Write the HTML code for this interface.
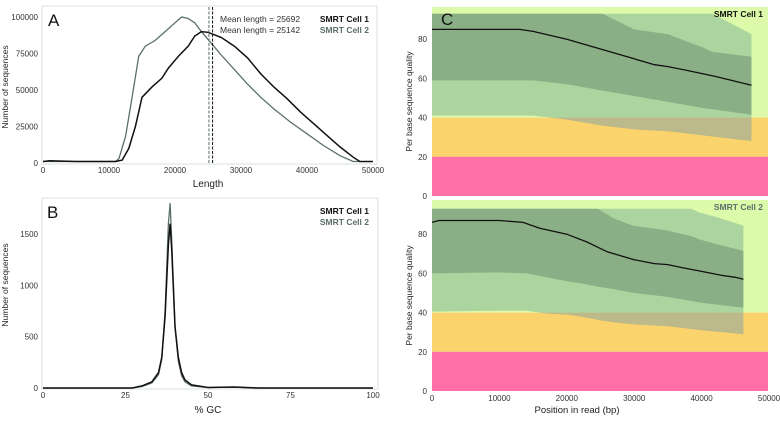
<!DOCTYPE html>
<html><head><meta charset="utf-8"><style>
html,body{margin:0;padding:0;background:#fff;}
svg{display:block;font-family:"Liberation Sans",Arial,sans-serif;}
</style></head><body>
<svg id="fig" width="780" height="437" viewBox="0 0 780 437" xmlns="http://www.w3.org/2000/svg"></svg>
<script>
// ---- Panel A data (length in bp, counts) ----
const aX1 = [0,1000,5000,11000,12000,13000,14000,15000,16500,18000,19000,20500,22000,23000,24000,25000,27000,29000,31000,33000,35000,37000,39000,41000,43000,45000,47000,48000,50000];
const aY1 = [1000,1500,1000,1000,2000,10000,25000,45000,52000,58000,65000,73000,80000,87000,90000,89500,86000,80000,72000,61000,52000,44000,35000,27000,19000,11000,4000,1000,1000];
const aX2 = [0,5000,11000,11500,12500,13500,14500,15500,17000,18500,20000,21000,22000,23000,24000,25500,27000,29000,31000,33000,35000,37500,40000,42500,45000,47000,48000];
const aY2 = [1000,1000,1000,3000,18000,45000,73000,80000,84000,90000,96000,100000,99000,96000,90000,82000,74000,64000,54000,45000,37000,28000,20000,12000,5000,1000,1000];
const aMeans = [25692,25142];
const aXTicks = [0,10000,20000,30000,40000,50000];
const aYTicks = [0,25000,50000,75000,100000];
// ---- Panel B data (%GC) ----
const bX1 = [0,20,27,30,33,35,36,37,38,38.5,39,40,41,42,43,45,50,58,65,100];
const bY1 = [0,0,0,20,60,150,300,700,1400,1600,1350,600,300,150,80,30,5,10,0,0];
const bX2 = [0,20,27,30,33,35,36,37,38,38.5,39,40,41,42,43,45,50,58,65,100];
const bY2 = [0,0,0,15,50,130,280,750,1600,1800,1450,600,260,120,60,20,5,8,0,0];
const bXTicks = [0,25,50,75,100];
const bYTicks = [0,500,1000,1500];
// ---- Panel C data (quality by position) ----
const c1X = [0,5000,10000,13000,15000,20000,25000,30000,33000,35000,38000,42000,47400];
const c1Mean = [85,85,85,85,84,80,75,70,67,66,64,61,56.5];
const c1X2 = [0,15000,20000,25000,25300,30000,35000,40000,41600,47400];
const c1Q3 = [93,93,93,93,93,85,82.5,76,73.5,71];
const c1P90 = [93,93,93,93,93,93,93,93,93,82.6];
const c1X3 = [0,10000,15000,20000,25000,30000,35000,40000,47400];
const c1Q1 = [59,59,59,57,54,51,48,45,41.5];
const c1P10 = [41,41,41,39,36,34,33,31,28];
const c2X = [0,1000,10000,13500,16000,20000,23000,26000,30000,33000,35000,37000,40000,43000,45000,46200];
const c2Mean = [86,87,87,86,83,80,76,71,67,65,64.5,63,61,59,58,57];
const c2X2 = [0,14000,17000,22000,24600,27000,29800,34700,38500,39700,42200,46200];
const c2Q3 = [93,93,93,93,93,88,84.4,82,79,77.3,75,71.5];
const c2P90 = [93,93,93,93,93,93,93,93,93,91,88.8,84.4];
const c2X3 = [0,10000,14000,17000,20000,22000,25000,27000,30000,35000,40000,46200];
const c2Q1 = [60,60.5,60,58,56,55,53,52,50,48,45,42.5];
const c2P10 = [40.5,41,41,39.5,39,38,36,35,34,33,31,29];
const cXTicks = [0,10000,20000,30000,40000,50000];
const cYTicks = [0,20,40,60,80];

const NS="http://www.w3.org/2000/svg";
const svg=document.getElementById('fig');
function mk(tag,attrs,parent){const e=document.createElementNS(NS,tag);for(const k in attrs)e.setAttribute(k,attrs[k]);(parent||svg).appendChild(e);return e;}
function txt(s,attrs,parent){const e=mk('text',attrs,parent);e.textContent=s;return e;}
function lin(d0,d1,r0,r1){return v=>r0+(v-d0)/(d1-d0)*(r1-r0);}
function pts(xs,ys,sx,sy){return xs.map((x,i)=>sx(x).toFixed(1)+','+sy(ys[i]).toFixed(1)).join(' ');}

// ===== Panel A =====
const gA=mk('g',{});


const axA=lin(0,50000,43,373), ayA=lin(0,100000,163,17);
let r=mk('rect',{x:42,y:6,width:335,height:158,fill:'#fff',stroke:'#d9e0e0','stroke-width':1},gA);

aYTicks.forEach(v=>{const t=txt(String(v),{x:38,y:ayA(v)+3,'font-size':8,'text-anchor':'end',fill:'#333'},gA);
});
aXTicks.forEach(v=>{const t=txt(String(v),{x:axA(v),y:173,'font-size':8,'text-anchor':'middle',fill:'#333'},gA);
});
let t=txt('Length',{x:208,y:187,'font-size':10,'text-anchor':'middle',fill:'#222'},gA);

t=txt('Number of sequences',{x:0,y:0,'font-size':8.5,'text-anchor':'middle',fill:'#222',transform:'translate(8,87) rotate(-90)'},gA);

t=txt('A',{x:48,y:26,'font-size':17,fill:'#111'},gA);

let p=mk('polyline',{points:pts(aX2,aY2,axA,ayA),fill:'none',stroke:'#5b6f69','stroke-width':1.3},gA);

p=mk('polyline',{points:pts(aX1,aY1,axA,ayA),fill:'none',stroke:'#111','stroke-width':1.5},gA);

aMeans.forEach((m,i)=>{const l=mk('line',{x1:axA(m),x2:axA(m),y1:7,y2:163,stroke:i?'#5b6f69':'#111','stroke-width':1,'stroke-dasharray':'3,1.5'},gA);
});
t=txt('Mean length = '+aMeans[0],{x:220,y:22,'font-size':8.5,fill:'#333'},gA);

t=txt('Mean length = '+aMeans[1],{x:220,y:33,'font-size':8.5,fill:'#333'},gA);

t=txt('SMRT Cell 1',{x:369,y:22,'font-size':8.5,'font-weight':'bold','text-anchor':'end',fill:'#111'},gA);

t=txt('SMRT Cell 2',{x:369,y:33,'font-size':8.5,'font-weight':'bold','text-anchor':'end',fill:'#5b6f69'},gA);


// ===== Panel B =====
const gB=mk('g',{});


const axB=lin(0,100,43,373), ayB=lin(0,1500,388,234);
r=mk('rect',{x:42,y:198,width:336,height:191,fill:'#fff',stroke:'#d9e0e0','stroke-width':1},gB);

bYTicks.forEach(v=>{const t=txt(String(v),{x:38,y:ayB(v)+3,'font-size':8,'text-anchor':'end',fill:'#333'},gB);
});
bXTicks.forEach(v=>{const t=txt(String(v),{x:axB(v),y:398,'font-size':8,'text-anchor':'middle',fill:'#333'},gB);
});
t=txt('% GC',{x:208,y:413,'font-size':10,'text-anchor':'middle',fill:'#222'},gB);

t=txt('Number of sequences',{x:0,y:0,'font-size':8.5,'text-anchor':'middle',fill:'#222',transform:'translate(8,285) rotate(-90)'},gB);

t=txt('B',{x:47,y:218,'font-size':17,fill:'#111'},gB);

p=mk('polyline',{points:pts(bX2,bY2,axB,ayB),fill:'none',stroke:'#5b6f69','stroke-width':1.3},gB);

p=mk('polyline',{points:pts(bX1,bY1,axB,ayB),fill:'none',stroke:'#111','stroke-width':1.5},gB);

t=txt('SMRT Cell 1',{x:369,y:214,'font-size':8.5,'font-weight':'bold','text-anchor':'end',fill:'#111'},gB);

t=txt('SMRT Cell 2',{x:369,y:225,'font-size':8.5,'font-weight':'bold','text-anchor':'end',fill:'#5b6f69'},gB);


// ===== Panel C =====
function band(g,xsTop,top,xsBot,bot,sx,sy){
  const a=xsTop.map((x,i)=>sx(x).toFixed(1)+','+sy(top[i]).toFixed(1));
  const b=xsBot.map((x,i)=>sx(x).toFixed(1)+','+sy(bot[i]).toFixed(1)).reverse();
  return a.concat(b).join(' ');
}
function panelC(idx,y0,yTop,label,X,mean,X2,q3,p90,X3,q1,p10){
  const g=mk('g',{});
  
  
  const sx=lin(0,50000,432,769), sy=lin(0,20,y0,y0-39.2);
  const cid='clipc'+idx;
  const cp=mk('clipPath',{id:cid},g); mk('rect',{x:432,y:yTop,width:336,height:sy(40)-yTop},cp);
  const cid2='clipd'+idx;
  const cp2=mk('clipPath',{id:cid2},g); mk('rect',{x:432,y:sy(40),width:336,height:y0-sy(40)},cp2);
  let e=mk('rect',{x:432,y:yTop,width:336,height:sy(40)-yTop,fill:'#dcfaa9'},g);
  
  e=mk('rect',{x:432,y:sy(40),width:336,height:sy(20)-sy(40),fill:'#fbd36c'},g);
  
  e=mk('rect',{x:432,y:sy(20),width:336,height:y0-sy(20),fill:'#ff6fa7'},g);
  
  // outer band (10-90)
  const outer=band(g,X2,p90,X3,p10,sx,sy);
  e=mk('polygon',{points:outer,fill:'#acd49e','clip-path':'url(#'+cid+')'},g);
  
  e=mk('polygon',{points:outer,fill:'#bcb98b','clip-path':'url(#'+cid2+')'},g);
  
  e=mk('polygon',{points:band(g,X2,q3,X3,q1,sx,sy),fill:'#8aaf86'},g);
  
  e=mk('polyline',{points:pts(X,mean,sx,sy),fill:'none',stroke:'#111','stroke-width':1.3},g);
  
  cYTicks.forEach(v=>{const t=txt(String(v),{x:427,y:sy(v)+3,'font-size':8,'text-anchor':'end',fill:'#333'},g);
  });
  const t1=txt('Per base sequence quality',{x:0,y:0,'font-size':8.5,'text-anchor':'middle',fill:'#222',transform:'translate(412,'+((yTop+y0)/2)+') rotate(-90)'},g);
  
  const t2=txt(label,{x:763,y:yTop+10,'font-size':8.5,'font-weight':'bold','text-anchor':'end',fill:idx==1?'#111':'#5b6f69'},g);
  
  return sx;
}
panelC(1,196,7,'SMRT Cell 1',c1X,c1Mean,c1X2,c1Q3,c1P90,c1X3,c1Q1,c1P10);
const sxC=panelC(2,391,200,'SMRT Cell 2',c2X,c2Mean,c2X2,c2Q3,c2P90,c2X3,c2Q1,c2P10);
t=txt('C',{x:441,y:25,'font-size':17,fill:'#111'});

cXTicks.forEach(v=>{const t=txt(String(v),{x:sxC(v),y:401,'font-size':8,'text-anchor':'middle',fill:'#333'});
});
t=txt('Position in read (bp)',{x:577,y:413,'font-size':9.5,'text-anchor':'middle',fill:'#222'});

</script>
</body></html>
